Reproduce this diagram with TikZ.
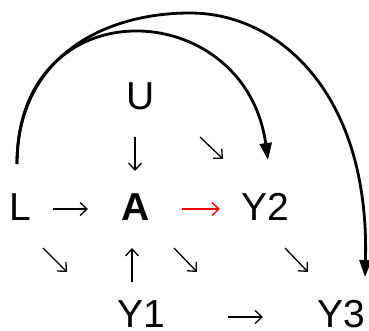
\documentclass[tikz,border=0pt]{standalone}
\usepackage{fontspec}
\setmainfont{Liberation Sans}
\usetikzlibrary{arrows.meta}
\begin{document}
\begin{tikzpicture}[x=1pt,y=-1pt,
  lbl/.style={font=\fontsize{39}{39}\selectfont, inner sep=0pt, anchor=base},
  thinarrow/.style={line width=1.3pt, -{Straight Barb[length=7pt,width=13pt]}},
  bigarrow/.style={line width=2.8pt, -{Triangle[length=17pt,width=12pt]}}]
\useasboundingbox (0,0) rectangle (369,331);
% labels
\node[lbl] (U)  at (141,110) {U};
\node[lbl] (L)  at (20,220) {L};
\node[lbl] (A)  at (135.5,220) {\bfseries A};
\node[lbl] (Y2) at (265.6,220) {Y2};
\node[lbl] (Y1) at (141,327) {Y1};
\node[lbl] (Y3) at (341.3,327) {Y3};
% arrow end points
\coordinate (la1) at (53,209);   \coordinate (la2) at (88,209);
\coordinate (ay1) at (182,209);  \coordinate (ay2) at (220,209);
\coordinate (yy1) at (228,317);  \coordinate (yy2) at (263,317);
\coordinate (ua1) at (135,137);  \coordinate (ua2) at (135,171);
\coordinate (ya1) at (132,282);  \coordinate (ya2) at (132,248);
\coordinate (ld1) at (43,248);   \coordinate (ld2) at (67,272);
\coordinate (ad1) at (174,248);  \coordinate (ad2) at (197,272);
\coordinate (yd1) at (285,248);  \coordinate (yd2) at (308,272);
\coordinate (ud1) at (200,137);  \coordinate (ud2) at (223,159);
% short arrows
\draw[thinarrow] (la1) -- (la2);
\draw[thinarrow, red] (ay1) -- (ay2);
\draw[thinarrow] (yy1) -- (yy2);
\draw[thinarrow] (ua1) -- (ua2);
\draw[thinarrow] (ya1) -- (ya2);
\draw[thinarrow] (ld1) -- (ld2);
\draw[thinarrow] (ad1) -- (ad2);
\draw[thinarrow] (yd1) -- (yd2);
\draw[thinarrow] (ud1) -- (ud2);
% long curved arrows
\coordinate (Ltop) at (17,164);
\coordinate (Y2top) at (268,160);
\coordinate (Y3top) at (365,277);
\coordinate (apex) at (190,13);
\draw[bigarrow] (Ltop) .. controls (17,-15) and (245,-5) .. (Y2top);
\draw[bigarrow] (Ltop) .. controls (17,60) and (100,13) .. (apex)
  .. controls (280,13) and (370,95) .. (Y3top);
\end{tikzpicture}
\end{document}
